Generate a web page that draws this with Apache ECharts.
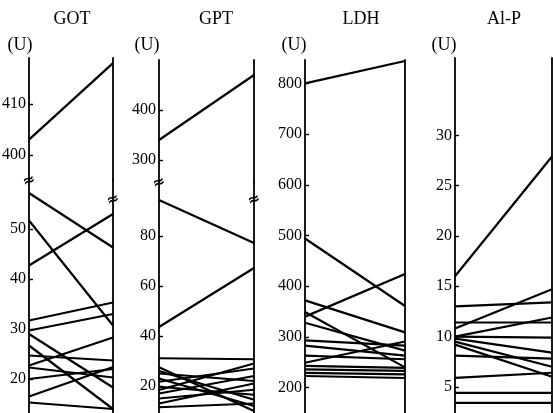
<!DOCTYPE html>
<html>
<head>
<meta charset="utf-8">
<script src="https://cdn.jsdelivr.net/npm/echarts@6/dist/echarts.min.js"></script>
<style>
  html, body { margin: 0; padding: 0; background: #fff; }
  #chart { width: 553px; height: 413px; }
</style>
</head>
<body>
<div id="chart"></div>
<script>
// ---------- data ----------
const titles = ['GOT', 'GPT', 'LDH', 'Al-P'];
const unitLabel = '(U)';

const gotUpperBefore = [403];
const gotUpperAfter  = [418];
const gotLowerBefore = [57.2, 51.7, 42.7, 31.7, 29.7, 29.0, 26.7, 24.7, 22.7, 22.3, 20.0, 16.5, 15.3];
const gotLowerAfter  = [46.3, 30.7, 53.0, 35.3, 33.0, 18.3, 14.0, 23.7, 28.3, 20.3, 22.0, 22.4, 14.0];
const gotUpperTicks = [400, 410];
const gotLowerTicks = [20, 30, 40, 50];

const gptUpperBefore = [340];
const gptUpperAfter  = [470];
const gptLowerBefore = [94.4, 43.6, 31.1, 27.5, 26.0, 25.0, 23.0, 21.7, 19.7, 18.4, 17.0, 15.0, 13.0, 11.5];
const gptLowerAfter  = [77.2, 67.2, 30.7, 10.0, 14.5, 22.0, 12.0, 27.0, 16.5, 29.0, 24.0, 18.5, 21.0, 13.0];
const gptUpperTicks = [300, 400];
const gptLowerTicks = [20, 40, 60, 80];

const ldhBefore = [800, 494, 340, 372, 349, 328, 293, 283, 263, 249, 243, 236, 229, 223];
const ldhAfter  = [844, 361, 424, 309, 240, 273, 283, 263, 256, 291, 239, 233, 226, 219];
const ldhTicks = [200, 300, 400, 500, 600, 700, 800];

const alpBefore = [16.0, 13.0, 11.4, 10.8, 10.0, 10.0, 9.8, 9.5, 9.2, 8.1, 5.9, 4.4, 3.4];
const alpAfter  = [27.9, 13.4, 11.4, 14.7, 11.9, 9.9, 8.4, 7.0, 6.0, 7.8, 6.4, 4.4, 3.4];
const alpTicks = [5, 10, 15, 20, 25, 30];

// ---------- layout ----------
const W = 553, H = 413;
const FONT = "'Liberation Serif', serif";
const INK = '#000';

const sections = [
  { left: 29,  right: 113, top: 58,  bottom: 180, min: 395.1, max: 419.0, ticks: gotUpperTicks, before: gotUpperBefore, after: gotUpperAfter },
  { left: 29,  right: 113, top: 180, bottom: 413, min: 13.2,  max: 59.8,  ticks: gotLowerTicks, before: gotLowerBefore, after: gotLowerAfter },
  { left: 159, right: 254, top: 60,  bottom: 182, min: 256,   max: 500,   ticks: gptUpperTicks, before: gptUpperBefore, after: gptUpperAfter },
  { left: 159, right: 254, top: 182, bottom: 413, min: 9.2,   max: 101.6, ticks: gptLowerTicks, before: gptLowerBefore, after: gptLowerAfter },
  { left: 305, right: 405, top: 60,  bottom: 413, min: 150,   max: 846,   ticks: ldhTicks,      before: ldhBefore,      after: ldhAfter },
  { left: 455, right: 552, top: 58,  bottom: 413, min: 2.4,   max: 37.7,  ticks: alpTicks,      before: alpBefore,      after: alpAfter }
];

const grid = [], xAxis = [], yAxis = [], series = [];
sections.forEach((s, i) => {
  grid.push({ left: s.left, width: s.right - s.left, top: s.top, height: s.bottom - s.top, outerBoundsMode: 'none', containLabel: false });
  xAxis.push({ gridIndex: i, type: 'value', min: 0, max: 1, show: false });
  const yl = 2 * i;
  yAxis.push({
    gridIndex: i, type: 'value', min: s.min, max: s.max, position: 'left',
    axisLine: { show: true, onZero: false, lineStyle: { color: INK, width: 1.8 } },
    axisTick: { show: true, inside: true, length: 4, customValues: s.ticks, lineStyle: { color: INK, width: 1.4 } },
    axisLabel: { show: true, customValues: s.ticks, margin: 3, color: INK, fontFamily: FONT, fontSize: 16 },
    splitLine: { show: false }
  });
  yAxis.push({
    gridIndex: i, type: 'value', min: s.min, max: s.max, position: 'right',
    axisLine: { show: true, onZero: false, lineStyle: { color: INK, width: 1.8 } },
    axisTick: { show: false }, axisLabel: { show: false }, splitLine: { show: false }
  });
  s.before.forEach((b, k) => {
    series.push({
      type: 'line', xAxisIndex: i, yAxisIndex: yl,
      data: [[0, b], [1, s.after[k]]],
      symbol: 'none', silent: true,
      lineStyle: { color: INK, width: 2.2 }
    });
  });
});

const panelTitles = [
  { x: 72,  ux: 20 },
  { x: 216, ux: 147 },
  { x: 361, ux: 294 },
  { x: 504, ux: 444 }
];
const graphic = [];
titles.forEach((t, i) => {
  graphic.push({ type: 'text', x: panelTitles[i].x, y: 19, style: { text: t, fontFamily: FONT, fontSize: 18, fill: INK, align: 'center', verticalAlign: 'middle' } });
  graphic.push({ type: 'text', x: panelTitles[i].ux, y: 45, style: { text: unitLabel, fontFamily: FONT, fontSize: 18, fill: INK, align: 'center', verticalAlign: 'middle' } });
});
// axis break marks
[[29, 181], [113, 200], [159, 183], [254, 200]].forEach(p => {
  graphic.push({ type: 'text', x: p[0], y: p[1], rotation: 0.35, style: { text: '≈', fontFamily: "'DejaVu Sans', sans-serif", fontSize: 15, fontWeight: 'bold', fill: INK, align: 'center', verticalAlign: 'middle' } });
});

const chart = echarts.init(document.getElementById('chart'), null, { renderer: 'canvas', width: W, height: H });
chart.setOption({
  animation: false,
  backgroundColor: '#fff',
  grid, xAxis, yAxis, series, graphic
});
</script>
</body>
</html>
